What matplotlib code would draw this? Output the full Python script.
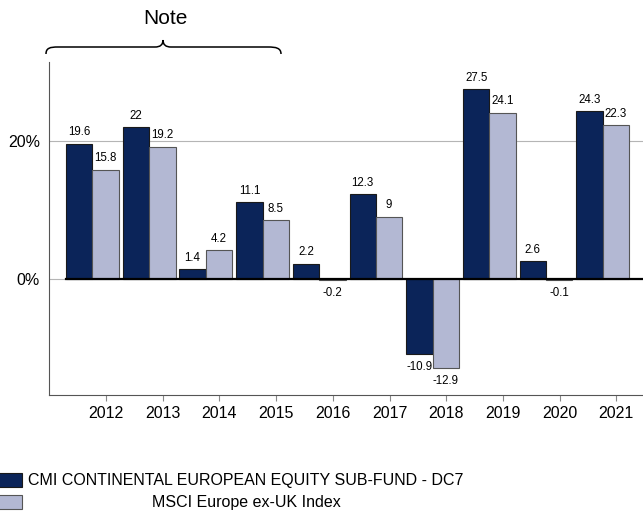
import matplotlib
matplotlib.use('Agg')
import matplotlib.pyplot as plt
import numpy as np
from matplotlib.patches import Rectangle, PathPatch
from matplotlib.path import Path

plt.rcParams['font.family'] = ['Liberation Sans', 'DejaVu Sans']

years = ['2012', '2013', '2014', '2015', '2016', '2017', '2018', '2019', '2020', '2021']
fund = [19.6, 22.0, 1.4, 11.1, 2.2, 12.3, -10.9, 27.5, 2.6, 24.3]
index = [15.8, 19.2, 4.2, 8.5, -0.2, 9.0, -12.9, 24.1, -0.1, 22.3]
fund_name = 'CMI CONTINENTAL EUROPEAN EQUITY SUB-FUND - DC7'
index_name = 'MSCI Europe ex-UK Index'

dark = '#0b2459'
light = '#b3b8d3'

W, H = 643, 513
fig = plt.figure(figsize=(W / 100, H / 100), dpi=100)
ax = fig.add_axes([49 / W, 118 / H, 1 - 49 / W, 333 / H])

x = np.arange(len(years))
w = 0.466
b1 = ax.bar(x - w / 2, fund, w, color=dark, edgecolor='#1a1a1a', linewidth=0.8, zorder=3)
b2 = ax.bar(x + w / 2, index, w, color=light, edgecolor='#555555', linewidth=0.8, zorder=3)

for bars, vals in ((b1, fund), (b2, index)):
    for r, v in zip(bars, vals):
        cx = r.get_x() + r.get_width() / 2
        if v >= 0:
            ax.annotate(f'{v:g}', (cx, v), xytext=(0, 4), textcoords='offset points',
                        ha='center', va='bottom', fontsize=8.3)
        else:
            ax.annotate(f'{v:g}', (cx, v), xytext=(0, -5), textcoords='offset points',
                        ha='center', va='top', fontsize=8.3)

ax.set_xlim(-0.767, 9.71)
ax.set_ylim(-16.8, 31.45)
ax.set_yticks([0, 20])
ax.set_yticklabels(['0%', '20%'], fontsize=11.5)
ax.tick_params(axis='y', length=0, pad=6.5)
ax.set_xticks(x + 0.24)
ax.set_xticklabels(years, fontsize=11.5)
ax.tick_params(axis='x', length=4, color='#888888', pad=4)
ax.grid(axis='y', color='#b5b5b5', linewidth=0.8, zorder=0)
ax.axhline(0, xmin=(x[0] - w + 0.767) / 10.477, color='black', linewidth=1.6, zorder=4)
for s in ('top', 'right'):
    ax.spines[s].set_visible(False)
for s in ('left', 'bottom'):
    ax.spines[s].set_color('#555555')
    ax.spines[s].set_linewidth(0.8)

# brace and note
px = lambda X, Y: (X / W, 1 - Y / H)
verts = [px(46, 54), px(46, 48), px(50, 47), px(58, 47),
         px(155, 47), px(160, 47), px(163, 45), px(163, 40),
         px(163, 45), px(166, 47), px(171, 47),
         px(268, 47), px(276, 47), px(281, 48), px(281, 54)]
codes = [Path.MOVETO, Path.CURVE4, Path.CURVE4, Path.CURVE4,
         Path.LINETO, Path.CURVE4, Path.CURVE4, Path.CURVE4,
         Path.CURVE4, Path.CURVE4, Path.CURVE4,
         Path.LINETO, Path.CURVE4, Path.CURVE4, Path.CURVE4]
fig.add_artist(PathPatch(Path(verts, codes), transform=fig.transFigure,
                         facecolor='none', edgecolor='black', linewidth=1.1))
fig.text(165 / W, 1 - 19 / H, 'Note', ha='center', va='center', fontsize=15)

# legend
fig.add_artist(Rectangle(px(-2, 487), 24 / W, 14 / H, transform=fig.transFigure,
                         facecolor=dark, edgecolor='#1a1a1a', linewidth=0.8))
fig.add_artist(Rectangle(px(-2, 509), 24 / W, 14 / H, transform=fig.transFigure,
                         facecolor=light, edgecolor='#555555', linewidth=0.8))
fig.text(28 / W, 1 - 481 / H, fund_name, ha='left', va='center', fontsize=11.5)
fig.text(246 / W, 1 - 503 / H, index_name, ha='center', va='center', fontsize=11.5)

fig.savefig('out.png', dpi=100)
